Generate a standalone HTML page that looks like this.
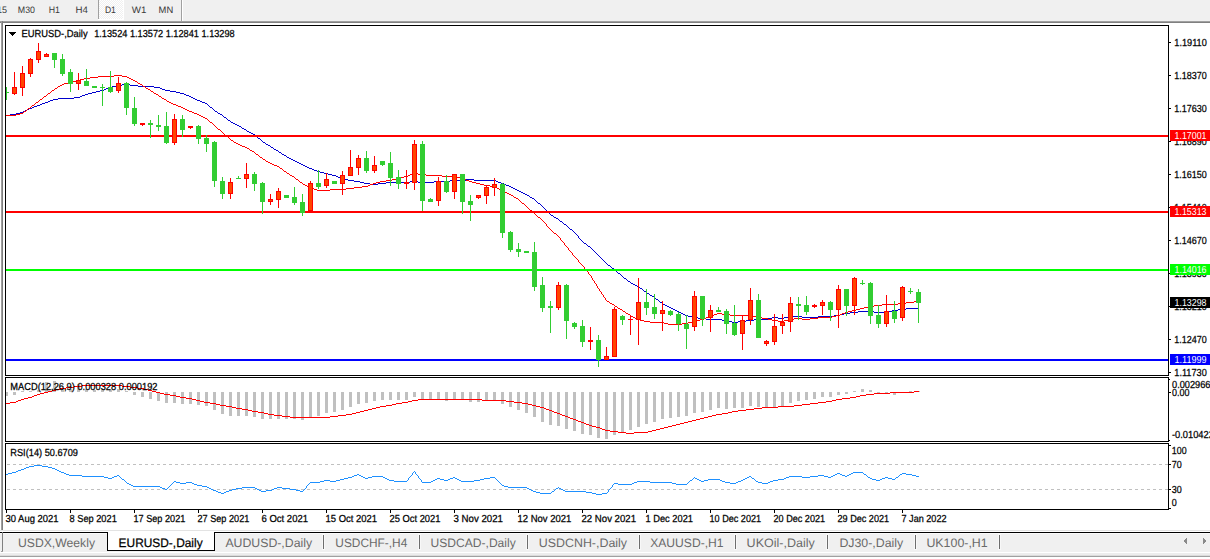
<!DOCTYPE html><html><head><meta charset="utf-8"><title>EURUSD Daily</title><style>html,body{margin:0;padding:0;background:#fff;overflow:hidden}svg{display:block}text{font-family:"Liberation Sans",sans-serif}</style></head><body><svg width="1210" height="559" viewBox="0 0 1210 559" shape-rendering="crispEdges" text-rendering="geometricPrecision" font-family='"Liberation Sans", sans-serif'>
<defs><clipPath id="cm"><rect x="6" y="26" width="1162" height="349"/></clipPath><clipPath id="cd"><rect x="6" y="378" width="1162" height="63"/></clipPath><clipPath id="cr"><rect x="6" y="444" width="1162" height="65"/></clipPath><pattern id="dith" width="2" height="2" patternUnits="userSpaceOnUse"><rect width="2" height="2" fill="#f0f0f0"/><rect width="1" height="1" fill="#ffffff"/><rect x="1" y="1" width="1" height="1" fill="#ffffff"/></pattern></defs>
<rect x="0" y="0" width="1210" height="559" fill="#ffffff"/>
<rect x="0" y="0" width="1210" height="21" fill="#f0f0f0"/>
<rect x="98" y="0" width="1" height="19" fill="#a0a0a0"/>
<rect x="99" y="0" width="24" height="19" fill="url(#dith)"/>
<rect x="123" y="0" width="1" height="20" fill="#ffffff"/>
<rect x="98" y="19" width="26" height="1" fill="#ffffff"/>
<rect x="181" y="0" width="1" height="21" fill="#a0a0a0"/>
<rect x="182" y="0" width="1" height="21" fill="#ffffff"/>
<text x="-10.5" y="13" font-size="9.3" fill="#3a3a3a" textLength="17.5" lengthAdjust="spacingAndGlyphs">M15</text>
<text x="17.8" y="13" font-size="9.3" fill="#3a3a3a" textLength="17.2" lengthAdjust="spacingAndGlyphs">M30</text>
<text x="48.8" y="13" font-size="9.3" fill="#3a3a3a" textLength="11.2" lengthAdjust="spacingAndGlyphs">H1</text>
<text x="75.6" y="13" font-size="9.3" fill="#3a3a3a" textLength="12.4" lengthAdjust="spacingAndGlyphs">H4</text>
<text x="104.9" y="13" font-size="9.3" fill="#3a3a3a" textLength="11" lengthAdjust="spacingAndGlyphs">D1</text>
<text x="131.8" y="13" font-size="9.3" fill="#3a3a3a" textLength="14.6" lengthAdjust="spacingAndGlyphs">W1</text>
<text x="158.6" y="13" font-size="9.3" fill="#3a3a3a" textLength="14.6" lengthAdjust="spacingAndGlyphs">MN</text>
<rect x="0" y="21" width="1210" height="1" fill="#a0a0a0"/>
<rect x="0" y="22" width="1210" height="1" fill="#808080"/>
<rect x="1" y="21" width="1" height="509" fill="#a0a0a0"/>
<rect x="2" y="21" width="1" height="509" fill="#808080"/>
<path d="M122 84h8v1h-8zM116 85h6v1h-6zM130 85h8v1h-8zM112 86h4v1h-4zM138 86h16v1h-16zM109 87h3v1h-3zM154 87h6v1h-6zM106 88h3v1h-3zM160 88h2v1h-2zM104 89h2v1h-2zM162 89h3v1h-3zM100 90h4v1h-4zM165 90h5v1h-5zM96 91h4v1h-4zM170 91h6v1h-6zM92 92h4v1h-4zM176 92h4v1h-4zM88 93h4v1h-4zM180 93h4v1h-4zM85 94h3v1h-3zM184 94h2v1h-2zM82 95h3v1h-3zM186 95h3v1h-3zM80 96h2v1h-2zM189 96h2v1h-2zM74 97h6v1h-6zM191 97h2v1h-2zM58 98h16v1h-16zM193 98h2v1h-2zM53 99h5v1h-5zM195 99h2v1h-2zM50 100h3v1h-3zM197 100h3v1h-3zM48 101h2v1h-2zM200 101h2v1h-2zM45 102h3v1h-3zM202 102h3v1h-3zM42 103h3v1h-3zM205 103h2v1h-2zM40 104h2v1h-2zM207 104h1v1h-1zM37 105h3v1h-3zM208 105h1v1h-1zM34 106h3v1h-3zM209 106h1v1h-1zM32 107h2v1h-2zM210 107h2v1h-2zM29 108h3v1h-3zM212 108h1v1h-1zM27 109h2v1h-2zM213 109h1v1h-1zM25 110h2v1h-2zM214 110h1v1h-1zM23 111h2v1h-2zM215 111h2v1h-2zM20 112h3v1h-3zM217 112h1v1h-1zM16 113h4v1h-4zM218 113h2v1h-2zM10 114h6v1h-6zM220 114h2v1h-2zM6 115h4v1h-4zM222 115h1v1h-1zM223 116h1v1h-1zM224 117h2v1h-2zM226 118h1v1h-1zM227 119h1v1h-1zM228 120h2v1h-2zM230 121h1v1h-1zM231 122h2v1h-2zM233 123h2v1h-2zM235 124h2v1h-2zM237 125h2v1h-2zM239 126h2v1h-2zM241 127h1v1h-1zM242 128h2v1h-2zM244 129h2v1h-2zM246 130h1v1h-1zM247 131h2v1h-2zM249 132h2v1h-2zM251 133h2v1h-2zM253 134h2v1h-2zM255 135h1v1h-1zM256 136h1v1h-1zM257 137h1v1h-1zM258 138h2v1h-2zM260 139h1v1h-1zM261 140h1v1h-1zM262 141h1v1h-1zM263 142h2v1h-2zM265 143h1v1h-1zM266 144h2v1h-2zM268 145h2v1h-2zM270 146h1v1h-1zM271 147h2v1h-2zM273 148h1v1h-1zM274 149h2v1h-2zM276 150h2v1h-2zM278 151h1v1h-1zM279 152h2v1h-2zM281 153h1v1h-1zM282 154h2v1h-2zM284 155h2v1h-2zM286 156h1v1h-1zM287 157h2v1h-2zM289 158h2v1h-2zM291 159h2v1h-2zM293 160h2v1h-2zM295 161h2v1h-2zM297 162h2v1h-2zM299 163h2v1h-2zM301 164h2v1h-2zM303 165h2v1h-2zM305 166h2v1h-2zM307 167h2v1h-2zM309 168h3v1h-3zM312 169h2v1h-2zM314 170h3v1h-3zM317 171h3v1h-3zM320 172h4v1h-4zM324 173h4v1h-4zM328 174h4v1h-4zM332 175h4v1h-4zM336 176h2v1h-2zM338 177h3v1h-3zM341 178h3v1h-3zM344 179h4v1h-4zM466 179h8v1h-8zM348 180h6v1h-6zM450 180h16v1h-16zM474 180h22v1h-22zM354 181h6v1h-6zM410 181h8v1h-8zM434 181h16v1h-16zM496 181h2v1h-2zM360 182h4v1h-4zM386 182h24v1h-24zM418 182h16v1h-16zM498 182h3v1h-3zM364 183h6v1h-6zM378 183h8v1h-8zM501 183h3v1h-3zM370 184h8v1h-8zM504 184h2v1h-2zM506 185h3v1h-3zM509 186h2v1h-2zM511 187h2v1h-2zM513 188h2v1h-2zM515 189h2v1h-2zM517 190h2v1h-2zM519 191h2v1h-2zM521 192h2v1h-2zM523 193h2v1h-2zM525 194h2v1h-2zM527 195h2v1h-2zM529 196h1v1h-1zM530 197h2v1h-2zM532 198h2v1h-2zM534 199h1v1h-1zM535 200h1v1h-1zM536 201h1v1h-1zM537 202h1v1h-1zM538 203h2v1h-2zM540 204h1v1h-1zM541 205h1v1h-1zM542 206h1v1h-1zM543 207h1v1h-1zM544 208h1v1h-1zM545 209h1v1h-1zM546 210h1v1h-1zM547 211h1v1h-1zM548 212h1v1h-1zM549 213h1v1h-1zM550 214h1v1h-1zM551 215h2v1h-2zM553 216h1v1h-1zM554 217h2v1h-2zM556 218h2v1h-2zM558 219h1v1h-1zM559 220h1v1h-1zM560 221h2v1h-2zM562 222h1v1h-1zM563 223h1v1h-1zM564 224h2v1h-2zM566 225h1v1h-1zM567 226h1v1h-1zM568 227h1v1h-1zM569 228h1v1h-1zM570 229h2v1h-2zM572 230h1v1h-1zM573 231h1v1h-1zM574 232h1v1h-1zM575 233h1v1h-1zM576 234h1v1h-1zM577 235h1v1h-1zM578 236h1v1h-1zM578 237h1v1h-1zM579 238h1v1h-1zM580 239h1v1h-1zM581 240h1v1h-1zM582 241h1v1h-1zM583 242h1v1h-1zM584 243h2v1h-2zM586 244h1v1h-1zM587 245h1v1h-1zM588 246h2v1h-2zM590 247h1v1h-1zM591 248h1v1h-1zM592 249h1v1h-1zM593 250h1v1h-1zM594 251h1v1h-1zM595 252h1v1h-1zM596 253h1v1h-1zM597 254h1v1h-1zM598 255h1v1h-1zM599 256h1v1h-1zM600 257h1v1h-1zM601 258h1v1h-1zM602 259h1v1h-1zM603 260h1v1h-1zM604 261h1v1h-1zM605 262h1v1h-1zM606 263h1v1h-1zM607 264h1v1h-1zM608 265h2v1h-2zM610 266h1v1h-1zM611 267h1v1h-1zM612 268h2v1h-2zM614 269h1v1h-1zM615 270h1v1h-1zM616 271h1v1h-1zM617 272h1v1h-1zM618 273h2v1h-2zM620 274h1v1h-1zM621 275h1v1h-1zM622 276h1v1h-1zM623 277h1v1h-1zM624 278h2v1h-2zM626 279h1v1h-1zM627 280h1v1h-1zM628 281h2v1h-2zM630 282h1v1h-1zM631 283h2v1h-2zM633 284h2v1h-2zM635 285h2v1h-2zM637 286h2v1h-2zM639 287h1v1h-1zM640 288h2v1h-2zM642 289h1v1h-1zM643 290h1v1h-1zM644 291h2v1h-2zM646 292h1v1h-1zM647 293h2v1h-2zM649 294h1v1h-1zM650 295h2v1h-2zM652 296h2v1h-2zM654 297h1v1h-1zM655 298h1v1h-1zM656 299h2v1h-2zM658 300h1v1h-1zM659 301h1v1h-1zM660 302h2v1h-2zM662 303h1v1h-1zM663 304h2v1h-2zM665 305h2v1h-2zM667 306h2v1h-2zM669 307h2v1h-2zM671 308h2v1h-2zM906 308h13v1h-13zM673 309h2v1h-2zM898 309h8v1h-8zM675 310h2v1h-2zM892 310h6v1h-6zM677 311h2v1h-2zM858 311h16v1h-16zM888 311h4v1h-4zM679 312h2v1h-2zM850 312h8v1h-8zM874 312h14v1h-14zM681 313h2v1h-2zM844 313h6v1h-6zM683 314h2v1h-2zM840 314h4v1h-4zM685 315h3v1h-3zM834 315h6v1h-6zM688 316h4v1h-4zM788 316h14v1h-14zM818 316h16v1h-16zM692 317h6v1h-6zM772 317h6v1h-6zM784 317h4v1h-4zM802 317h16v1h-16zM698 318h8v1h-8zM768 318h4v1h-4zM778 318h6v1h-6zM706 319h16v1h-16zM754 319h14v1h-14zM722 320h6v1h-6zM746 320h8v1h-8zM728 321h4v1h-4zM738 321h8v1h-8zM732 322h6v1h-6z" fill="#0000cd"/>
<path d="M114 75h8v1h-8zM98 76h16v1h-16zM122 76h5v1h-5zM90 77h8v1h-8zM127 77h2v1h-2zM84 78h6v1h-6zM129 78h2v1h-2zM80 79h4v1h-4zM131 79h2v1h-2zM76 80h4v1h-4zM133 80h2v1h-2zM72 81h4v1h-4zM135 81h2v1h-2zM68 82h4v1h-4zM137 82h1v1h-1zM64 83h4v1h-4zM138 83h2v1h-2zM62 84h2v1h-2zM140 84h2v1h-2zM60 85h2v1h-2zM142 85h1v1h-1zM58 86h2v1h-2zM143 86h2v1h-2zM57 87h1v1h-1zM145 87h1v1h-1zM55 88h2v1h-2zM146 88h2v1h-2zM54 89h1v1h-1zM148 89h2v1h-2zM52 90h2v1h-2zM150 90h1v1h-1zM51 91h1v1h-1zM151 91h2v1h-2zM50 92h1v1h-1zM153 92h1v1h-1zM48 93h2v1h-2zM154 93h2v1h-2zM47 94h1v1h-1zM156 94h2v1h-2zM46 95h1v1h-1zM158 95h1v1h-1zM44 96h2v1h-2zM159 96h2v1h-2zM43 97h1v1h-1zM161 97h1v1h-1zM42 98h1v1h-1zM162 98h2v1h-2zM40 99h2v1h-2zM164 99h2v1h-2zM39 100h1v1h-1zM166 100h1v1h-1zM38 101h1v1h-1zM167 101h2v1h-2zM36 102h2v1h-2zM169 102h2v1h-2zM35 103h1v1h-1zM171 103h2v1h-2zM34 104h1v1h-1zM173 104h3v1h-3zM32 105h2v1h-2zM176 105h2v1h-2zM31 106h1v1h-1zM178 106h3v1h-3zM30 107h1v1h-1zM181 107h2v1h-2zM28 108h2v1h-2zM183 108h2v1h-2zM27 109h1v1h-1zM185 109h2v1h-2zM26 110h1v1h-1zM187 110h2v1h-2zM24 111h2v1h-2zM189 111h3v1h-3zM23 112h1v1h-1zM192 112h2v1h-2zM20 113h3v1h-3zM194 113h3v1h-3zM16 114h4v1h-4zM197 114h2v1h-2zM6 115h10v1h-10zM199 115h2v1h-2zM201 116h2v1h-2zM203 117h2v1h-2zM205 118h2v1h-2zM207 119h1v1h-1zM208 120h1v1h-1zM209 121h1v1h-1zM210 122h2v1h-2zM212 123h1v1h-1zM213 124h1v1h-1zM214 125h1v1h-1zM215 126h1v1h-1zM216 127h1v1h-1zM217 128h1v1h-1zM218 129h2v1h-2zM220 130h1v1h-1zM221 131h1v1h-1zM222 132h1v1h-1zM223 133h1v1h-1zM224 134h1v1h-1zM225 135h1v1h-1zM226 136h2v1h-2zM228 137h1v1h-1zM229 138h1v1h-1zM230 139h1v1h-1zM231 140h2v1h-2zM233 141h1v1h-1zM234 142h2v1h-2zM236 143h2v1h-2zM238 144h2v1h-2zM240 145h2v1h-2zM242 146h3v1h-3zM245 147h2v1h-2zM247 148h2v1h-2zM249 149h1v1h-1zM250 150h2v1h-2zM252 151h2v1h-2zM254 152h1v1h-1zM255 153h1v1h-1zM256 154h2v1h-2zM258 155h1v1h-1zM259 156h1v1h-1zM260 157h2v1h-2zM262 158h1v1h-1zM263 159h2v1h-2zM265 160h1v1h-1zM266 161h2v1h-2zM268 162h2v1h-2zM270 163h2v1h-2zM272 164h2v1h-2zM274 165h3v1h-3zM277 166h2v1h-2zM279 167h1v1h-1zM280 168h2v1h-2zM282 169h1v1h-1zM283 170h1v1h-1zM284 171h2v1h-2zM286 172h1v1h-1zM287 173h2v1h-2zM413 173h5v1h-5zM289 174h1v1h-1zM410 174h3v1h-3zM418 174h8v1h-8zM290 175h2v1h-2zM408 175h2v1h-2zM426 175h16v1h-16zM292 176h2v1h-2zM404 176h4v1h-4zM442 176h14v1h-14zM294 177h1v1h-1zM400 177h4v1h-4zM456 177h4v1h-4zM295 178h1v1h-1zM396 178h4v1h-4zM460 178h4v1h-4zM296 179h2v1h-2zM392 179h4v1h-4zM464 179h2v1h-2zM298 180h1v1h-1zM386 180h6v1h-6zM466 180h3v1h-3zM299 181h1v1h-1zM380 181h6v1h-6zM469 181h3v1h-3zM300 182h2v1h-2zM376 182h4v1h-4zM472 182h4v1h-4zM302 183h1v1h-1zM373 183h3v1h-3zM476 183h4v1h-4zM303 184h2v1h-2zM370 184h3v1h-3zM480 184h4v1h-4zM305 185h2v1h-2zM368 185h2v1h-2zM484 185h6v1h-6zM307 186h2v1h-2zM362 186h6v1h-6zM490 186h5v1h-5zM309 187h3v1h-3zM354 187h8v1h-8zM495 187h2v1h-2zM312 188h2v1h-2zM346 188h8v1h-8zM497 188h2v1h-2zM314 189h3v1h-3zM330 189h16v1h-16zM499 189h2v1h-2zM317 190h13v1h-13zM501 190h2v1h-2zM503 191h2v1h-2zM505 192h2v1h-2zM507 193h2v1h-2zM509 194h2v1h-2zM511 195h2v1h-2zM513 196h1v1h-1zM514 197h2v1h-2zM516 198h2v1h-2zM518 199h1v1h-1zM519 200h1v1h-1zM520 201h1v1h-1zM521 202h1v1h-1zM522 203h2v1h-2zM524 204h1v1h-1zM525 205h1v1h-1zM526 206h1v1h-1zM527 207h1v1h-1zM528 208h1v1h-1zM529 209h1v1h-1zM530 210h2v1h-2zM532 211h1v1h-1zM533 212h1v1h-1zM534 213h1v1h-1zM535 214h1v1h-1zM536 215h1v1h-1zM537 216h1v1h-1zM538 217h2v1h-2zM540 218h1v1h-1zM541 219h1v1h-1zM542 220h1v1h-1zM543 221h1v1h-1zM544 222h1v1h-1zM545 223h1v1h-1zM546 224h1v1h-1zM546 225h1v1h-1zM547 226h1v1h-1zM548 227h1v1h-1zM549 228h1v1h-1zM550 229h1v1h-1zM551 230h1v1h-1zM552 231h1v1h-1zM553 232h1v1h-1zM554 233h2v1h-2zM556 234h1v1h-1zM557 235h1v1h-1zM558 236h1v1h-1zM559 237h1v1h-1zM560 238h1v1h-1zM560 239h1v1h-1zM561 240h1v1h-1zM562 241h1v1h-1zM563 242h1v1h-1zM564 243h1v1h-1zM564 244h1v1h-1zM565 245h1v1h-1zM566 246h1v1h-1zM567 247h1v1h-1zM568 248h1v1h-1zM568 249h1v1h-1zM569 250h1v1h-1zM570 251h1v1h-1zM571 252h1v1h-1zM572 253h1v1h-1zM572 254h1v1h-1zM573 255h1v1h-1zM574 256h1v1h-1zM575 257h1v1h-1zM576 258h1v1h-1zM577 259h1v1h-1zM578 260h1v1h-1zM578 261h1v1h-1zM579 262h1v1h-1zM580 263h1v1h-1zM581 264h1v1h-1zM582 265h1v1h-1zM583 266h1v1h-1zM584 267h1v1h-1zM584 268h1v1h-1zM585 269h1v1h-1zM586 270h1v1h-1zM587 271h1v1h-1zM588 272h1v1h-1zM588 273h1v1h-1zM589 274h1v1h-1zM590 275h1v1h-1zM591 276h1v1h-1zM591 277h1v1h-1zM592 278h1v1h-1zM592 279h1v1h-1zM593 280h1v1h-1zM594 281h1v1h-1zM594 282h1v1h-1zM595 283h1v1h-1zM596 284h1v1h-1zM596 285h1v1h-1zM597 286h1v1h-1zM597 287h1v1h-1zM598 288h1v1h-1zM599 289h1v1h-1zM599 290h1v1h-1zM600 291h1v1h-1zM601 292h1v1h-1zM601 293h1v1h-1zM602 294h1v1h-1zM603 295h1v1h-1zM603 296h1v1h-1zM604 297h1v1h-1zM605 298h1v1h-1zM605 299h1v1h-1zM606 300h1v1h-1zM607 301h2v1h-2zM914 301h5v1h-5zM609 302h1v1h-1zM906 302h8v1h-8zM610 303h2v1h-2zM898 303h8v1h-8zM612 304h2v1h-2zM882 304h16v1h-16zM614 305h1v1h-1zM874 305h8v1h-8zM615 306h2v1h-2zM868 306h6v1h-6zM617 307h1v1h-1zM864 307h4v1h-4zM618 308h2v1h-2zM860 308h4v1h-4zM620 309h2v1h-2zM856 309h4v1h-4zM622 310h1v1h-1zM852 310h4v1h-4zM623 311h2v1h-2zM848 311h4v1h-4zM625 312h1v1h-1zM845 312h3v1h-3zM626 313h2v1h-2zM717 313h5v1h-5zM842 313h3v1h-3zM628 314h2v1h-2zM714 314h3v1h-3zM722 314h8v1h-8zM840 314h2v1h-2zM630 315h1v1h-1zM712 315h2v1h-2zM730 315h22v1h-22zM836 315h4v1h-4zM631 316h2v1h-2zM709 316h3v1h-3zM752 316h4v1h-4zM832 316h4v1h-4zM633 317h2v1h-2zM706 317h3v1h-3zM756 317h6v1h-6zM818 317h14v1h-14zM635 318h2v1h-2zM704 318h2v1h-2zM762 318h6v1h-6zM794 318h8v1h-8zM810 318h8v1h-8zM637 319h3v1h-3zM700 319h4v1h-4zM768 319h4v1h-4zM788 319h6v1h-6zM802 319h8v1h-8zM640 320h4v1h-4zM696 320h4v1h-4zM772 320h6v1h-6zM784 320h4v1h-4zM644 321h6v1h-6zM692 321h4v1h-4zM778 321h6v1h-6zM650 322h14v1h-14zM688 322h4v1h-4zM664 323h4v1h-4zM682 323h6v1h-6zM668 324h14v1h-14z" fill="#ff0000"/>
<rect x="6" y="135" width="1162" height="2" fill="#ff0000"/>
<rect x="6" y="211" width="1162" height="2" fill="#ff0000"/>
<rect x="6" y="269" width="1162" height="2" fill="#00ff00"/>
<rect x="6" y="359" width="1162" height="2" fill="#0000ff"/>
<g clip-path="url(#cm)">
<rect x="6" y="87" width="1" height="13" fill="#32cd32"/>
<rect x="4" y="92" width="5" height="1" fill="#32cd32"/>
<rect x="14" y="72" width="1" height="23" fill="#ff0000"/>
<rect x="12" y="87" width="5" height="7" fill="#ff0000"/>
<rect x="13" y="88" width="3" height="5" fill="#ff4500"/>
<rect x="22" y="66" width="1" height="30" fill="#ff0000"/>
<rect x="20" y="73" width="5" height="15" fill="#ff0000"/>
<rect x="21" y="74" width="3" height="13" fill="#ff4500"/>
<rect x="30" y="58" width="1" height="19" fill="#ff0000"/>
<rect x="28" y="59" width="5" height="15" fill="#ff0000"/>
<rect x="29" y="60" width="3" height="13" fill="#ff4500"/>
<rect x="38" y="43" width="1" height="20" fill="#ff0000"/>
<rect x="36" y="51" width="5" height="9" fill="#ff0000"/>
<rect x="37" y="52" width="3" height="7" fill="#ff4500"/>
<rect x="46" y="53" width="1" height="4" fill="#ff0000"/>
<rect x="44" y="54" width="5" height="3" fill="#ff0000"/>
<rect x="45" y="55" width="3" height="1" fill="#ff4500"/>
<rect x="54" y="53" width="1" height="15" fill="#32cd32"/>
<rect x="52" y="53" width="5" height="7" fill="#32cd32"/>
<rect x="62" y="54" width="1" height="22" fill="#32cd32"/>
<rect x="60" y="59" width="5" height="15" fill="#32cd32"/>
<rect x="70" y="69" width="1" height="23" fill="#32cd32"/>
<rect x="68" y="72" width="5" height="12" fill="#32cd32"/>
<rect x="78" y="73" width="1" height="17" fill="#ff0000"/>
<rect x="76" y="80" width="5" height="4" fill="#ff0000"/>
<rect x="77" y="81" width="3" height="2" fill="#ff4500"/>
<rect x="86" y="69" width="1" height="17" fill="#32cd32"/>
<rect x="84" y="81" width="5" height="5" fill="#32cd32"/>
<rect x="94" y="86" width="1" height="2" fill="#32cd32"/>
<rect x="92" y="86" width="5" height="2" fill="#32cd32"/>
<rect x="102" y="84" width="1" height="22" fill="#32cd32"/>
<rect x="100" y="87" width="5" height="1" fill="#32cd32"/>
<rect x="110" y="71" width="1" height="22" fill="#32cd32"/>
<rect x="108" y="87" width="5" height="5" fill="#32cd32"/>
<rect x="118" y="77" width="1" height="16" fill="#ff0000"/>
<rect x="116" y="83" width="5" height="8" fill="#ff0000"/>
<rect x="117" y="84" width="3" height="6" fill="#ff4500"/>
<rect x="126" y="82" width="1" height="33" fill="#32cd32"/>
<rect x="124" y="83" width="5" height="25" fill="#32cd32"/>
<rect x="134" y="97" width="1" height="29" fill="#32cd32"/>
<rect x="132" y="108" width="5" height="16" fill="#32cd32"/>
<rect x="142" y="123" width="1" height="3" fill="#ff0000"/>
<rect x="140" y="123" width="5" height="2" fill="#ff0000"/>
<rect x="150" y="120" width="1" height="18" fill="#32cd32"/>
<rect x="148" y="123" width="5" height="2" fill="#32cd32"/>
<rect x="158" y="115" width="1" height="16" fill="#32cd32"/>
<rect x="156" y="125" width="5" height="2" fill="#32cd32"/>
<rect x="166" y="112" width="1" height="32" fill="#32cd32"/>
<rect x="164" y="126" width="5" height="17" fill="#32cd32"/>
<rect x="174" y="114" width="1" height="31" fill="#ff0000"/>
<rect x="172" y="119" width="5" height="24" fill="#ff0000"/>
<rect x="173" y="120" width="3" height="22" fill="#ff4500"/>
<rect x="182" y="115" width="1" height="22" fill="#32cd32"/>
<rect x="180" y="119" width="5" height="11" fill="#32cd32"/>
<rect x="190" y="126" width="1" height="3" fill="#ff0000"/>
<rect x="188" y="126" width="5" height="2" fill="#ff0000"/>
<rect x="198" y="125" width="1" height="19" fill="#32cd32"/>
<rect x="196" y="126" width="5" height="13" fill="#32cd32"/>
<rect x="206" y="135" width="1" height="17" fill="#32cd32"/>
<rect x="204" y="138" width="5" height="6" fill="#32cd32"/>
<rect x="214" y="141" width="1" height="46" fill="#32cd32"/>
<rect x="212" y="142" width="5" height="39" fill="#32cd32"/>
<rect x="222" y="177" width="1" height="22" fill="#32cd32"/>
<rect x="220" y="181" width="5" height="13" fill="#32cd32"/>
<rect x="230" y="178" width="1" height="21" fill="#ff0000"/>
<rect x="228" y="182" width="5" height="12" fill="#ff0000"/>
<rect x="229" y="183" width="3" height="10" fill="#ff4500"/>
<rect x="238" y="176" width="1" height="3" fill="#32cd32"/>
<rect x="236" y="178" width="5" height="1" fill="#32cd32"/>
<rect x="246" y="163" width="1" height="25" fill="#ff0000"/>
<rect x="244" y="174" width="5" height="5" fill="#ff0000"/>
<rect x="245" y="175" width="3" height="3" fill="#ff4500"/>
<rect x="254" y="172" width="1" height="19" fill="#32cd32"/>
<rect x="252" y="174" width="5" height="10" fill="#32cd32"/>
<rect x="262" y="182" width="1" height="32" fill="#32cd32"/>
<rect x="260" y="183" width="5" height="19" fill="#32cd32"/>
<rect x="270" y="194" width="1" height="11" fill="#ff0000"/>
<rect x="268" y="199" width="5" height="3" fill="#ff0000"/>
<rect x="269" y="200" width="3" height="1" fill="#ff4500"/>
<rect x="278" y="188" width="1" height="20" fill="#ff0000"/>
<rect x="276" y="191" width="5" height="9" fill="#ff0000"/>
<rect x="277" y="192" width="3" height="7" fill="#ff4500"/>
<rect x="286" y="195" width="1" height="3" fill="#32cd32"/>
<rect x="284" y="195" width="5" height="3" fill="#32cd32"/>
<rect x="294" y="187" width="1" height="18" fill="#32cd32"/>
<rect x="292" y="197" width="5" height="6" fill="#32cd32"/>
<rect x="302" y="194" width="1" height="22" fill="#32cd32"/>
<rect x="300" y="202" width="5" height="11" fill="#32cd32"/>
<rect x="310" y="181" width="1" height="31" fill="#ff0000"/>
<rect x="308" y="183" width="5" height="28" fill="#ff0000"/>
<rect x="309" y="184" width="3" height="26" fill="#ff4500"/>
<rect x="318" y="170" width="1" height="19" fill="#32cd32"/>
<rect x="316" y="183" width="5" height="4" fill="#32cd32"/>
<rect x="326" y="173" width="1" height="15" fill="#ff0000"/>
<rect x="324" y="179" width="5" height="7" fill="#ff0000"/>
<rect x="325" y="180" width="3" height="5" fill="#ff4500"/>
<rect x="334" y="181" width="1" height="3" fill="#32cd32"/>
<rect x="332" y="181" width="5" height="3" fill="#32cd32"/>
<rect x="342" y="171" width="1" height="24" fill="#ff0000"/>
<rect x="340" y="175" width="5" height="9" fill="#ff0000"/>
<rect x="341" y="176" width="3" height="7" fill="#ff4500"/>
<rect x="350" y="150" width="1" height="26" fill="#ff0000"/>
<rect x="348" y="167" width="5" height="9" fill="#ff0000"/>
<rect x="349" y="168" width="3" height="7" fill="#ff4500"/>
<rect x="358" y="155" width="1" height="20" fill="#ff0000"/>
<rect x="356" y="158" width="5" height="10" fill="#ff0000"/>
<rect x="357" y="159" width="3" height="8" fill="#ff4500"/>
<rect x="366" y="151" width="1" height="22" fill="#32cd32"/>
<rect x="364" y="158" width="5" height="13" fill="#32cd32"/>
<rect x="374" y="156" width="1" height="17" fill="#ff0000"/>
<rect x="372" y="165" width="5" height="6" fill="#ff0000"/>
<rect x="373" y="166" width="3" height="4" fill="#ff4500"/>
<rect x="382" y="161" width="1" height="5" fill="#32cd32"/>
<rect x="380" y="161" width="5" height="4" fill="#32cd32"/>
<rect x="390" y="152" width="1" height="34" fill="#32cd32"/>
<rect x="388" y="163" width="5" height="15" fill="#32cd32"/>
<rect x="398" y="170" width="1" height="19" fill="#32cd32"/>
<rect x="396" y="177" width="5" height="7" fill="#32cd32"/>
<rect x="406" y="170" width="1" height="19" fill="#ff0000"/>
<rect x="404" y="182" width="5" height="2" fill="#ff0000"/>
<rect x="414" y="140" width="1" height="50" fill="#ff0000"/>
<rect x="412" y="144" width="5" height="39" fill="#ff0000"/>
<rect x="413" y="145" width="3" height="37" fill="#ff4500"/>
<rect x="422" y="141" width="1" height="70" fill="#32cd32"/>
<rect x="420" y="144" width="5" height="57" fill="#32cd32"/>
<rect x="430" y="198" width="1" height="4" fill="#32cd32"/>
<rect x="428" y="199" width="5" height="3" fill="#32cd32"/>
<rect x="438" y="177" width="1" height="29" fill="#ff0000"/>
<rect x="436" y="181" width="5" height="20" fill="#ff0000"/>
<rect x="437" y="182" width="3" height="18" fill="#ff4500"/>
<rect x="446" y="175" width="1" height="18" fill="#32cd32"/>
<rect x="444" y="181" width="5" height="11" fill="#32cd32"/>
<rect x="454" y="174" width="1" height="25" fill="#ff0000"/>
<rect x="452" y="174" width="5" height="18" fill="#ff0000"/>
<rect x="453" y="175" width="3" height="16" fill="#ff4500"/>
<rect x="462" y="174" width="1" height="40" fill="#32cd32"/>
<rect x="460" y="174" width="5" height="28" fill="#32cd32"/>
<rect x="470" y="195" width="1" height="26" fill="#32cd32"/>
<rect x="468" y="201" width="5" height="4" fill="#32cd32"/>
<rect x="478" y="195" width="1" height="4" fill="#ff0000"/>
<rect x="476" y="195" width="5" height="3" fill="#ff0000"/>
<rect x="477" y="196" width="3" height="1" fill="#ff4500"/>
<rect x="486" y="185" width="1" height="19" fill="#ff0000"/>
<rect x="484" y="187" width="5" height="9" fill="#ff0000"/>
<rect x="485" y="188" width="3" height="7" fill="#ff4500"/>
<rect x="494" y="178" width="1" height="18" fill="#ff0000"/>
<rect x="492" y="184" width="5" height="4" fill="#ff0000"/>
<rect x="493" y="185" width="3" height="2" fill="#ff4500"/>
<rect x="502" y="183" width="1" height="55" fill="#32cd32"/>
<rect x="500" y="184" width="5" height="49" fill="#32cd32"/>
<rect x="510" y="231" width="1" height="21" fill="#32cd32"/>
<rect x="508" y="232" width="5" height="18" fill="#32cd32"/>
<rect x="518" y="243" width="1" height="14" fill="#32cd32"/>
<rect x="516" y="249" width="5" height="3" fill="#32cd32"/>
<rect x="526" y="251" width="1" height="2" fill="#32cd32"/>
<rect x="524" y="251" width="5" height="2" fill="#32cd32"/>
<rect x="534" y="242" width="1" height="49" fill="#32cd32"/>
<rect x="532" y="252" width="5" height="35" fill="#32cd32"/>
<rect x="542" y="277" width="1" height="35" fill="#32cd32"/>
<rect x="540" y="285" width="5" height="23" fill="#32cd32"/>
<rect x="550" y="301" width="1" height="32" fill="#32cd32"/>
<rect x="548" y="306" width="5" height="2" fill="#32cd32"/>
<rect x="558" y="282" width="1" height="28" fill="#ff0000"/>
<rect x="556" y="285" width="5" height="23" fill="#ff0000"/>
<rect x="557" y="286" width="3" height="21" fill="#ff4500"/>
<rect x="566" y="284" width="1" height="55" fill="#32cd32"/>
<rect x="564" y="285" width="5" height="36" fill="#32cd32"/>
<rect x="574" y="322" width="1" height="7" fill="#32cd32"/>
<rect x="572" y="323" width="5" height="4" fill="#32cd32"/>
<rect x="582" y="320" width="1" height="27" fill="#32cd32"/>
<rect x="580" y="326" width="5" height="16" fill="#32cd32"/>
<rect x="590" y="327" width="1" height="23" fill="#ff0000"/>
<rect x="588" y="340" width="5" height="2" fill="#ff0000"/>
<rect x="598" y="335" width="1" height="32" fill="#32cd32"/>
<rect x="596" y="340" width="5" height="20" fill="#32cd32"/>
<rect x="606" y="347" width="1" height="13" fill="#ff0000"/>
<rect x="604" y="356" width="5" height="4" fill="#ff0000"/>
<rect x="605" y="357" width="3" height="2" fill="#ff4500"/>
<rect x="614" y="307" width="1" height="50" fill="#ff0000"/>
<rect x="612" y="309" width="5" height="48" fill="#ff0000"/>
<rect x="613" y="310" width="3" height="46" fill="#ff4500"/>
<rect x="622" y="315" width="1" height="10" fill="#32cd32"/>
<rect x="620" y="316" width="5" height="4" fill="#32cd32"/>
<rect x="630" y="316" width="1" height="19" fill="#ff0000"/>
<rect x="628" y="319" width="5" height="1" fill="#ff0000"/>
<rect x="638" y="278" width="1" height="67" fill="#ff0000"/>
<rect x="636" y="302" width="5" height="18" fill="#ff0000"/>
<rect x="637" y="303" width="3" height="16" fill="#ff4500"/>
<rect x="646" y="289" width="1" height="26" fill="#32cd32"/>
<rect x="644" y="302" width="5" height="6" fill="#32cd32"/>
<rect x="654" y="294" width="1" height="25" fill="#32cd32"/>
<rect x="652" y="307" width="5" height="7" fill="#32cd32"/>
<rect x="662" y="301" width="1" height="30" fill="#ff0000"/>
<rect x="660" y="310" width="5" height="4" fill="#ff0000"/>
<rect x="661" y="311" width="3" height="2" fill="#ff4500"/>
<rect x="670" y="310" width="1" height="6" fill="#32cd32"/>
<rect x="668" y="311" width="5" height="4" fill="#32cd32"/>
<rect x="678" y="312" width="1" height="19" fill="#32cd32"/>
<rect x="676" y="314" width="5" height="10" fill="#32cd32"/>
<rect x="686" y="315" width="1" height="34" fill="#32cd32"/>
<rect x="684" y="324" width="5" height="5" fill="#32cd32"/>
<rect x="694" y="291" width="1" height="40" fill="#ff0000"/>
<rect x="692" y="296" width="5" height="31" fill="#ff0000"/>
<rect x="693" y="297" width="3" height="29" fill="#ff4500"/>
<rect x="702" y="296" width="1" height="30" fill="#32cd32"/>
<rect x="700" y="296" width="5" height="23" fill="#32cd32"/>
<rect x="710" y="305" width="1" height="27" fill="#ff0000"/>
<rect x="708" y="310" width="5" height="8" fill="#ff0000"/>
<rect x="709" y="311" width="3" height="6" fill="#ff4500"/>
<rect x="718" y="307" width="1" height="5" fill="#32cd32"/>
<rect x="716" y="310" width="5" height="2" fill="#32cd32"/>
<rect x="726" y="309" width="1" height="25" fill="#32cd32"/>
<rect x="724" y="311" width="5" height="13" fill="#32cd32"/>
<rect x="734" y="305" width="1" height="31" fill="#32cd32"/>
<rect x="732" y="323" width="5" height="12" fill="#32cd32"/>
<rect x="742" y="316" width="1" height="34" fill="#ff0000"/>
<rect x="740" y="320" width="5" height="14" fill="#ff0000"/>
<rect x="741" y="321" width="3" height="12" fill="#ff4500"/>
<rect x="750" y="288" width="1" height="37" fill="#ff0000"/>
<rect x="748" y="300" width="5" height="20" fill="#ff0000"/>
<rect x="749" y="301" width="3" height="18" fill="#ff4500"/>
<rect x="758" y="294" width="1" height="44" fill="#32cd32"/>
<rect x="756" y="300" width="5" height="38" fill="#32cd32"/>
<rect x="766" y="340" width="1" height="6" fill="#ff0000"/>
<rect x="764" y="341" width="5" height="3" fill="#ff0000"/>
<rect x="765" y="342" width="3" height="1" fill="#ff4500"/>
<rect x="774" y="314" width="1" height="31" fill="#ff0000"/>
<rect x="772" y="326" width="5" height="16" fill="#ff0000"/>
<rect x="773" y="327" width="3" height="14" fill="#ff4500"/>
<rect x="782" y="314" width="1" height="20" fill="#ff0000"/>
<rect x="780" y="322" width="5" height="4" fill="#ff0000"/>
<rect x="781" y="323" width="3" height="2" fill="#ff4500"/>
<rect x="790" y="297" width="1" height="35" fill="#ff0000"/>
<rect x="788" y="303" width="5" height="19" fill="#ff0000"/>
<rect x="789" y="304" width="3" height="17" fill="#ff4500"/>
<rect x="798" y="297" width="1" height="23" fill="#32cd32"/>
<rect x="796" y="304" width="5" height="2" fill="#32cd32"/>
<rect x="806" y="296" width="1" height="19" fill="#32cd32"/>
<rect x="804" y="305" width="5" height="7" fill="#32cd32"/>
<rect x="814" y="304" width="1" height="4" fill="#ff0000"/>
<rect x="812" y="305" width="5" height="2" fill="#ff0000"/>
<rect x="822" y="300" width="1" height="15" fill="#ff0000"/>
<rect x="820" y="302" width="5" height="4" fill="#ff0000"/>
<rect x="821" y="303" width="3" height="2" fill="#ff4500"/>
<rect x="830" y="301" width="1" height="20" fill="#32cd32"/>
<rect x="828" y="302" width="5" height="8" fill="#32cd32"/>
<rect x="838" y="285" width="1" height="43" fill="#ff0000"/>
<rect x="836" y="289" width="5" height="21" fill="#ff0000"/>
<rect x="837" y="290" width="3" height="19" fill="#ff4500"/>
<rect x="846" y="289" width="1" height="27" fill="#32cd32"/>
<rect x="844" y="289" width="5" height="17" fill="#32cd32"/>
<rect x="854" y="277" width="1" height="38" fill="#ff0000"/>
<rect x="852" y="278" width="5" height="28" fill="#ff0000"/>
<rect x="853" y="279" width="3" height="26" fill="#ff4500"/>
<rect x="862" y="280" width="1" height="5" fill="#32cd32"/>
<rect x="860" y="283" width="5" height="1" fill="#32cd32"/>
<rect x="870" y="282" width="1" height="42" fill="#32cd32"/>
<rect x="868" y="283" width="5" height="33" fill="#32cd32"/>
<rect x="878" y="305" width="1" height="23" fill="#32cd32"/>
<rect x="876" y="315" width="5" height="9" fill="#32cd32"/>
<rect x="886" y="295" width="1" height="32" fill="#ff0000"/>
<rect x="884" y="311" width="5" height="13" fill="#ff0000"/>
<rect x="885" y="312" width="3" height="11" fill="#ff4500"/>
<rect x="894" y="301" width="1" height="22" fill="#32cd32"/>
<rect x="892" y="311" width="5" height="8" fill="#32cd32"/>
<rect x="902" y="286" width="1" height="35" fill="#ff0000"/>
<rect x="900" y="287" width="5" height="31" fill="#ff0000"/>
<rect x="901" y="288" width="3" height="29" fill="#ff4500"/>
<rect x="910" y="288" width="1" height="6" fill="#32cd32"/>
<rect x="908" y="291" width="5" height="1" fill="#32cd32"/>
<rect x="918" y="289" width="1" height="34" fill="#32cd32"/>
<rect x="916" y="292" width="5" height="11" fill="#32cd32"/>
</g>
<rect x="5" y="25" width="1164" height="1" fill="#000"/>
<rect x="5" y="375" width="1164" height="1" fill="#000"/>
<rect x="5" y="25" width="1" height="351" fill="#000"/>
<rect x="1168" y="25" width="1" height="351" fill="#000"/>
<path d="M9 32h7v1h-1v1h-1v1h-1v1h-1v-1h-1v-1h-1v-1h-1z" fill="#000"/>
<text x="21.6" y="37" font-size="10.2" fill="#000" stroke="#000" stroke-width="0.25" textLength="66" lengthAdjust="spacingAndGlyphs">EURUSD-,Daily</text>
<text x="94.2" y="37" font-size="10.2" fill="#000" stroke="#000" stroke-width="0.25" textLength="140.5" lengthAdjust="spacingAndGlyphs">1.13524 1.13572 1.12841 1.13298</text>
<rect x="1169" y="42" width="2" height="1" fill="#000"/>
<text x="1174.3" y="46" font-size="10.2" fill="#000" stroke="#000" stroke-width="0.25" textLength="32.5" lengthAdjust="spacingAndGlyphs">1.19110</text>
<rect x="1169" y="75" width="2" height="1" fill="#000"/>
<text x="1174.3" y="79" font-size="10.2" fill="#000" stroke="#000" stroke-width="0.25" textLength="32.5" lengthAdjust="spacingAndGlyphs">1.18370</text>
<rect x="1169" y="108" width="2" height="1" fill="#000"/>
<text x="1174.3" y="112" font-size="10.2" fill="#000" stroke="#000" stroke-width="0.25" textLength="32.5" lengthAdjust="spacingAndGlyphs">1.17630</text>
<rect x="1169" y="141" width="2" height="1" fill="#000"/>
<text x="1174.3" y="145" font-size="10.2" fill="#000" stroke="#000" stroke-width="0.25" textLength="32.5" lengthAdjust="spacingAndGlyphs">1.16890</text>
<rect x="1169" y="174" width="2" height="1" fill="#000"/>
<text x="1174.3" y="178" font-size="10.2" fill="#000" stroke="#000" stroke-width="0.25" textLength="32.5" lengthAdjust="spacingAndGlyphs">1.16150</text>
<rect x="1169" y="207" width="2" height="1" fill="#000"/>
<text x="1174.3" y="211" font-size="10.2" fill="#000" stroke="#000" stroke-width="0.25" textLength="32.5" lengthAdjust="spacingAndGlyphs">1.15410</text>
<rect x="1169" y="240" width="2" height="1" fill="#000"/>
<text x="1174.3" y="244" font-size="10.2" fill="#000" stroke="#000" stroke-width="0.25" textLength="32.5" lengthAdjust="spacingAndGlyphs">1.14670</text>
<rect x="1169" y="273" width="2" height="1" fill="#000"/>
<text x="1174.3" y="277" font-size="10.2" fill="#000" stroke="#000" stroke-width="0.25" textLength="32.5" lengthAdjust="spacingAndGlyphs">1.13930</text>
<rect x="1169" y="306" width="2" height="1" fill="#000"/>
<text x="1174.3" y="310" font-size="10.2" fill="#000" stroke="#000" stroke-width="0.25" textLength="32.5" lengthAdjust="spacingAndGlyphs">1.13210</text>
<rect x="1169" y="339" width="2" height="1" fill="#000"/>
<text x="1174.3" y="343" font-size="10.2" fill="#000" stroke="#000" stroke-width="0.25" textLength="32.5" lengthAdjust="spacingAndGlyphs">1.12470</text>
<rect x="1169" y="372" width="2" height="1" fill="#000"/>
<text x="1174.3" y="376" font-size="10.2" fill="#000" stroke="#000" stroke-width="0.25" textLength="32.5" lengthAdjust="spacingAndGlyphs">1.11730</text>
<rect x="1170" y="130" width="40" height="11" fill="#ff0000"/>
<text x="1174.5" y="139" font-size="10.2" fill="#fff" textLength="32" lengthAdjust="spacingAndGlyphs">1.17001</text>
<rect x="1170" y="206" width="40" height="11" fill="#ff0000"/>
<text x="1174.5" y="215" font-size="10.2" fill="#fff" textLength="32" lengthAdjust="spacingAndGlyphs">1.15313</text>
<rect x="1170" y="264" width="40" height="11" fill="#00ff00"/>
<text x="1174.5" y="273" font-size="10.2" fill="#fff" textLength="32" lengthAdjust="spacingAndGlyphs">1.14016</text>
<rect x="1170" y="297" width="40" height="11" fill="#000000"/>
<text x="1174.5" y="306" font-size="10.2" fill="#fff" textLength="32" lengthAdjust="spacingAndGlyphs">1.13298</text>
<rect x="1170" y="354" width="40" height="11" fill="#0000ff"/>
<text x="1174.5" y="363" font-size="10.2" fill="#fff" textLength="32" lengthAdjust="spacingAndGlyphs">1.11999</text>
<g clip-path="url(#cd)">
<rect x="5" y="392" width="3" height="4" fill="#c0c0c0"/>
<rect x="13" y="392" width="3" height="3" fill="#c0c0c0"/>
<rect x="21" y="391" width="3" height="1" fill="#c0c0c0"/>
<rect x="29" y="391" width="3" height="1" fill="#c0c0c0"/>
<rect x="37" y="390" width="3" height="2" fill="#c0c0c0"/>
<rect x="45" y="382" width="3" height="10" fill="#c0c0c0"/>
<rect x="53" y="381" width="3" height="11" fill="#c0c0c0"/>
<rect x="61" y="389" width="3" height="3" fill="#c0c0c0"/>
<rect x="69" y="389" width="3" height="3" fill="#c0c0c0"/>
<rect x="77" y="384" width="3" height="8" fill="#c0c0c0"/>
<rect x="85" y="389" width="3" height="3" fill="#c0c0c0"/>
<rect x="93" y="390" width="3" height="2" fill="#c0c0c0"/>
<rect x="101" y="390" width="3" height="2" fill="#c0c0c0"/>
<rect x="109" y="390" width="3" height="2" fill="#c0c0c0"/>
<rect x="117" y="389" width="3" height="3" fill="#c0c0c0"/>
<rect x="125" y="391" width="3" height="1" fill="#c0c0c0"/>
<rect x="133" y="392" width="3" height="3" fill="#c0c0c0"/>
<rect x="141" y="392" width="3" height="5" fill="#c0c0c0"/>
<rect x="149" y="392" width="3" height="7" fill="#c0c0c0"/>
<rect x="157" y="392" width="3" height="9" fill="#c0c0c0"/>
<rect x="165" y="392" width="3" height="11" fill="#c0c0c0"/>
<rect x="173" y="392" width="3" height="11" fill="#c0c0c0"/>
<rect x="181" y="392" width="3" height="12" fill="#c0c0c0"/>
<rect x="189" y="392" width="3" height="12" fill="#c0c0c0"/>
<rect x="197" y="392" width="3" height="13" fill="#c0c0c0"/>
<rect x="205" y="392" width="3" height="14" fill="#c0c0c0"/>
<rect x="213" y="392" width="3" height="18" fill="#c0c0c0"/>
<rect x="221" y="392" width="3" height="22" fill="#c0c0c0"/>
<rect x="229" y="392" width="3" height="24" fill="#c0c0c0"/>
<rect x="237" y="392" width="3" height="24" fill="#c0c0c0"/>
<rect x="245" y="392" width="3" height="24" fill="#c0c0c0"/>
<rect x="253" y="392" width="3" height="25" fill="#c0c0c0"/>
<rect x="261" y="392" width="3" height="27" fill="#c0c0c0"/>
<rect x="269" y="392" width="3" height="27" fill="#c0c0c0"/>
<rect x="277" y="392" width="3" height="27" fill="#c0c0c0"/>
<rect x="285" y="392" width="3" height="27" fill="#c0c0c0"/>
<rect x="293" y="392" width="3" height="27" fill="#c0c0c0"/>
<rect x="301" y="392" width="3" height="28" fill="#c0c0c0"/>
<rect x="309" y="392" width="3" height="25" fill="#c0c0c0"/>
<rect x="317" y="392" width="3" height="24" fill="#c0c0c0"/>
<rect x="325" y="392" width="3" height="21" fill="#c0c0c0"/>
<rect x="333" y="392" width="3" height="20" fill="#c0c0c0"/>
<rect x="341" y="392" width="3" height="18" fill="#c0c0c0"/>
<rect x="349" y="392" width="3" height="15" fill="#c0c0c0"/>
<rect x="357" y="392" width="3" height="12" fill="#c0c0c0"/>
<rect x="365" y="392" width="3" height="11" fill="#c0c0c0"/>
<rect x="373" y="392" width="3" height="9" fill="#c0c0c0"/>
<rect x="381" y="392" width="3" height="8" fill="#c0c0c0"/>
<rect x="389" y="392" width="3" height="8" fill="#c0c0c0"/>
<rect x="397" y="392" width="3" height="8" fill="#c0c0c0"/>
<rect x="405" y="392" width="3" height="8" fill="#c0c0c0"/>
<rect x="413" y="392" width="3" height="5" fill="#c0c0c0"/>
<rect x="421" y="392" width="3" height="7" fill="#c0c0c0"/>
<rect x="429" y="392" width="3" height="8" fill="#c0c0c0"/>
<rect x="437" y="392" width="3" height="7" fill="#c0c0c0"/>
<rect x="445" y="392" width="3" height="9" fill="#c0c0c0"/>
<rect x="453" y="392" width="3" height="7" fill="#c0c0c0"/>
<rect x="461" y="392" width="3" height="8" fill="#c0c0c0"/>
<rect x="469" y="392" width="3" height="10" fill="#c0c0c0"/>
<rect x="477" y="392" width="3" height="10" fill="#c0c0c0"/>
<rect x="485" y="392" width="3" height="9" fill="#c0c0c0"/>
<rect x="493" y="392" width="3" height="8" fill="#c0c0c0"/>
<rect x="501" y="392" width="3" height="12" fill="#c0c0c0"/>
<rect x="509" y="392" width="3" height="15" fill="#c0c0c0"/>
<rect x="517" y="392" width="3" height="18" fill="#c0c0c0"/>
<rect x="525" y="392" width="3" height="21" fill="#c0c0c0"/>
<rect x="533" y="392" width="3" height="25" fill="#c0c0c0"/>
<rect x="541" y="392" width="3" height="30" fill="#c0c0c0"/>
<rect x="549" y="392" width="3" height="33" fill="#c0c0c0"/>
<rect x="557" y="392" width="3" height="34" fill="#c0c0c0"/>
<rect x="565" y="392" width="3" height="37" fill="#c0c0c0"/>
<rect x="573" y="392" width="3" height="39" fill="#c0c0c0"/>
<rect x="581" y="392" width="3" height="42" fill="#c0c0c0"/>
<rect x="589" y="392" width="3" height="43" fill="#c0c0c0"/>
<rect x="597" y="392" width="3" height="46" fill="#c0c0c0"/>
<rect x="605" y="392" width="3" height="47" fill="#c0c0c0"/>
<rect x="613" y="392" width="3" height="43" fill="#c0c0c0"/>
<rect x="621" y="392" width="3" height="40" fill="#c0c0c0"/>
<rect x="629" y="392" width="3" height="38" fill="#c0c0c0"/>
<rect x="637" y="392" width="3" height="35" fill="#c0c0c0"/>
<rect x="645" y="392" width="3" height="32" fill="#c0c0c0"/>
<rect x="653" y="392" width="3" height="30" fill="#c0c0c0"/>
<rect x="661" y="392" width="3" height="27" fill="#c0c0c0"/>
<rect x="669" y="392" width="3" height="26" fill="#c0c0c0"/>
<rect x="677" y="392" width="3" height="25" fill="#c0c0c0"/>
<rect x="685" y="392" width="3" height="24" fill="#c0c0c0"/>
<rect x="693" y="392" width="3" height="21" fill="#c0c0c0"/>
<rect x="701" y="392" width="3" height="20" fill="#c0c0c0"/>
<rect x="709" y="392" width="3" height="18" fill="#c0c0c0"/>
<rect x="717" y="392" width="3" height="16" fill="#c0c0c0"/>
<rect x="725" y="392" width="3" height="17" fill="#c0c0c0"/>
<rect x="733" y="392" width="3" height="16" fill="#c0c0c0"/>
<rect x="741" y="392" width="3" height="16" fill="#c0c0c0"/>
<rect x="749" y="392" width="3" height="14" fill="#c0c0c0"/>
<rect x="757" y="392" width="3" height="15" fill="#c0c0c0"/>
<rect x="765" y="392" width="3" height="15" fill="#c0c0c0"/>
<rect x="773" y="392" width="3" height="15" fill="#c0c0c0"/>
<rect x="781" y="392" width="3" height="14" fill="#c0c0c0"/>
<rect x="789" y="392" width="3" height="11" fill="#c0c0c0"/>
<rect x="797" y="392" width="3" height="9" fill="#c0c0c0"/>
<rect x="805" y="392" width="3" height="8" fill="#c0c0c0"/>
<rect x="813" y="392" width="3" height="7" fill="#c0c0c0"/>
<rect x="821" y="392" width="3" height="5" fill="#c0c0c0"/>
<rect x="829" y="392" width="3" height="5" fill="#c0c0c0"/>
<rect x="837" y="392" width="3" height="3" fill="#c0c0c0"/>
<rect x="845" y="392" width="3" height="2" fill="#c0c0c0"/>
<rect x="853" y="391" width="3" height="1" fill="#c0c0c0"/>
<rect x="861" y="389" width="3" height="3" fill="#c0c0c0"/>
<rect x="869" y="390" width="3" height="2" fill="#c0c0c0"/>
<rect x="877" y="392" width="3" height="1" fill="#c0c0c0"/>
<rect x="885" y="392" width="3" height="1" fill="#c0c0c0"/>
<rect x="893" y="392" width="3" height="3" fill="#c0c0c0"/>
<rect x="909" y="391" width="3" height="1" fill="#c0c0c0"/>
<rect x="917" y="391" width="3" height="1" fill="#c0c0c0"/>
</g>
<path d="M82 385h40v1h-40zM74 386h8v1h-8zM122 386h8v1h-8zM66 387h8v1h-8zM130 387h8v1h-8zM60 388h6v1h-6zM138 388h6v1h-6zM56 389h4v1h-4zM144 389h4v1h-4zM52 390h4v1h-4zM148 390h4v1h-4zM48 391h4v1h-4zM152 391h4v1h-4zM914 391h5v1h-5zM44 392h4v1h-4zM156 392h4v1h-4zM890 392h24v1h-24zM40 393h4v1h-4zM160 393h4v1h-4zM874 393h16v1h-16zM37 394h3v1h-3zM164 394h6v1h-6zM866 394h8v1h-8zM34 395h3v1h-3zM170 395h6v1h-6zM860 395h6v1h-6zM32 396h2v1h-2zM176 396h4v1h-4zM856 396h4v1h-4zM28 397h4v1h-4zM180 397h6v1h-6zM850 397h6v1h-6zM24 398h4v1h-4zM186 398h6v1h-6zM842 398h8v1h-8zM21 399h3v1h-3zM192 399h4v1h-4zM418 399h64v1h-64zM836 399h6v1h-6zM18 400h3v1h-3zM196 400h4v1h-4zM412 400h6v1h-6zM482 400h24v1h-24zM832 400h4v1h-4zM16 401h2v1h-2zM200 401h4v1h-4zM408 401h4v1h-4zM506 401h8v1h-8zM826 401h6v1h-6zM10 402h6v1h-6zM204 402h6v1h-6zM402 402h6v1h-6zM514 402h8v1h-8zM818 402h8v1h-8zM6 403h4v1h-4zM210 403h6v1h-6zM396 403h6v1h-6zM522 403h6v1h-6zM810 403h8v1h-8zM216 404h4v1h-4zM392 404h4v1h-4zM528 404h4v1h-4zM802 404h8v1h-8zM220 405h6v1h-6zM386 405h6v1h-6zM532 405h4v1h-4zM794 405h8v1h-8zM226 406h6v1h-6zM380 406h6v1h-6zM536 406h4v1h-4zM778 406h16v1h-16zM232 407h4v1h-4zM376 407h4v1h-4zM540 407h4v1h-4zM762 407h16v1h-16zM236 408h6v1h-6zM372 408h4v1h-4zM544 408h2v1h-2zM754 408h8v1h-8zM242 409h6v1h-6zM368 409h4v1h-4zM546 409h3v1h-3zM746 409h8v1h-8zM248 410h4v1h-4zM364 410h4v1h-4zM549 410h3v1h-3zM738 410h8v1h-8zM252 411h6v1h-6zM360 411h4v1h-4zM552 411h2v1h-2zM732 411h6v1h-6zM258 412h6v1h-6zM356 412h4v1h-4zM554 412h3v1h-3zM728 412h4v1h-4zM264 413h4v1h-4zM352 413h4v1h-4zM557 413h3v1h-3zM722 413h6v1h-6zM268 414h6v1h-6zM346 414h6v1h-6zM560 414h2v1h-2zM716 414h6v1h-6zM274 415h8v1h-8zM338 415h8v1h-8zM562 415h3v1h-3zM712 415h4v1h-4zM282 416h8v1h-8zM330 416h8v1h-8zM565 416h3v1h-3zM708 416h4v1h-4zM290 417h40v1h-40zM568 417h2v1h-2zM704 417h4v1h-4zM570 418h3v1h-3zM700 418h4v1h-4zM573 419h3v1h-3zM696 419h4v1h-4zM576 420h2v1h-2zM692 420h4v1h-4zM578 421h3v1h-3zM688 421h4v1h-4zM581 422h3v1h-3zM684 422h4v1h-4zM584 423h2v1h-2zM680 423h4v1h-4zM586 424h3v1h-3zM676 424h4v1h-4zM589 425h3v1h-3zM672 425h4v1h-4zM592 426h4v1h-4zM668 426h4v1h-4zM596 427h4v1h-4zM664 427h4v1h-4zM600 428h2v1h-2zM660 428h4v1h-4zM602 429h3v1h-3zM656 429h4v1h-4zM605 430h5v1h-5zM652 430h4v1h-4zM610 431h8v1h-8zM648 431h4v1h-4zM618 432h8v1h-8zM634 432h14v1h-14zM626 433h8v1h-8z" fill="#ff0000"/>
<rect x="5" y="377" width="1164" height="1" fill="#000"/>
<rect x="5" y="441" width="1164" height="1" fill="#000"/>
<rect x="5" y="377" width="1" height="65" fill="#000"/>
<rect x="1168" y="377" width="1" height="65" fill="#000"/>
<text x="10.3" y="390" font-size="10.2" fill="#000" stroke="#000" stroke-width="0.25" textLength="147.2" lengthAdjust="spacingAndGlyphs">MACD(12,26,9) 0.000328 0.000192</text>
<rect x="1169" y="379" width="1" height="1" fill="#000"/>
<rect x="1169" y="392" width="2" height="1" fill="#000"/>
<rect x="1169" y="440" width="1" height="1" fill="#000"/>
<text x="1172" y="388" font-size="10.2" fill="#000" stroke="#000" stroke-width="0.25" textLength="38.5" lengthAdjust="spacingAndGlyphs">0.002966</text>
<text x="1172" y="396" font-size="10.2" fill="#000" stroke="#000" stroke-width="0.25" textLength="17.5" lengthAdjust="spacingAndGlyphs">0.00</text>
<text x="1171.9" y="438" font-size="10.2" fill="#000" stroke="#000" stroke-width="0.25" textLength="42" lengthAdjust="spacingAndGlyphs">-0.010422</text>
<g fill="#c0c0c0"><rect x="7" y="464" width="3" height="1"/><rect x="13" y="464" width="3" height="1"/><rect x="19" y="464" width="3" height="1"/><rect x="25" y="464" width="3" height="1"/><rect x="31" y="464" width="3" height="1"/><rect x="37" y="464" width="3" height="1"/><rect x="43" y="464" width="3" height="1"/><rect x="49" y="464" width="3" height="1"/><rect x="55" y="464" width="3" height="1"/><rect x="61" y="464" width="3" height="1"/><rect x="67" y="464" width="3" height="1"/><rect x="73" y="464" width="3" height="1"/><rect x="79" y="464" width="3" height="1"/><rect x="85" y="464" width="3" height="1"/><rect x="91" y="464" width="3" height="1"/><rect x="97" y="464" width="3" height="1"/><rect x="103" y="464" width="3" height="1"/><rect x="109" y="464" width="3" height="1"/><rect x="115" y="464" width="3" height="1"/><rect x="121" y="464" width="3" height="1"/><rect x="127" y="464" width="3" height="1"/><rect x="133" y="464" width="3" height="1"/><rect x="139" y="464" width="3" height="1"/><rect x="145" y="464" width="3" height="1"/><rect x="151" y="464" width="3" height="1"/><rect x="157" y="464" width="3" height="1"/><rect x="163" y="464" width="3" height="1"/><rect x="169" y="464" width="3" height="1"/><rect x="175" y="464" width="3" height="1"/><rect x="181" y="464" width="3" height="1"/><rect x="187" y="464" width="3" height="1"/><rect x="193" y="464" width="3" height="1"/><rect x="199" y="464" width="3" height="1"/><rect x="205" y="464" width="3" height="1"/><rect x="211" y="464" width="3" height="1"/><rect x="217" y="464" width="3" height="1"/><rect x="223" y="464" width="3" height="1"/><rect x="229" y="464" width="3" height="1"/><rect x="235" y="464" width="3" height="1"/><rect x="241" y="464" width="3" height="1"/><rect x="247" y="464" width="3" height="1"/><rect x="253" y="464" width="3" height="1"/><rect x="259" y="464" width="3" height="1"/><rect x="265" y="464" width="3" height="1"/><rect x="271" y="464" width="3" height="1"/><rect x="277" y="464" width="3" height="1"/><rect x="283" y="464" width="3" height="1"/><rect x="289" y="464" width="3" height="1"/><rect x="295" y="464" width="3" height="1"/><rect x="301" y="464" width="3" height="1"/><rect x="307" y="464" width="3" height="1"/><rect x="313" y="464" width="3" height="1"/><rect x="319" y="464" width="3" height="1"/><rect x="325" y="464" width="3" height="1"/><rect x="331" y="464" width="3" height="1"/><rect x="337" y="464" width="3" height="1"/><rect x="343" y="464" width="3" height="1"/><rect x="349" y="464" width="3" height="1"/><rect x="355" y="464" width="3" height="1"/><rect x="361" y="464" width="3" height="1"/><rect x="367" y="464" width="3" height="1"/><rect x="373" y="464" width="3" height="1"/><rect x="379" y="464" width="3" height="1"/><rect x="385" y="464" width="3" height="1"/><rect x="391" y="464" width="3" height="1"/><rect x="397" y="464" width="3" height="1"/><rect x="403" y="464" width="3" height="1"/><rect x="409" y="464" width="3" height="1"/><rect x="415" y="464" width="3" height="1"/><rect x="421" y="464" width="3" height="1"/><rect x="427" y="464" width="3" height="1"/><rect x="433" y="464" width="3" height="1"/><rect x="439" y="464" width="3" height="1"/><rect x="445" y="464" width="3" height="1"/><rect x="451" y="464" width="3" height="1"/><rect x="457" y="464" width="3" height="1"/><rect x="463" y="464" width="3" height="1"/><rect x="469" y="464" width="3" height="1"/><rect x="475" y="464" width="3" height="1"/><rect x="481" y="464" width="3" height="1"/><rect x="487" y="464" width="3" height="1"/><rect x="493" y="464" width="3" height="1"/><rect x="499" y="464" width="3" height="1"/><rect x="505" y="464" width="3" height="1"/><rect x="511" y="464" width="3" height="1"/><rect x="517" y="464" width="3" height="1"/><rect x="523" y="464" width="3" height="1"/><rect x="529" y="464" width="3" height="1"/><rect x="535" y="464" width="3" height="1"/><rect x="541" y="464" width="3" height="1"/><rect x="547" y="464" width="3" height="1"/><rect x="553" y="464" width="3" height="1"/><rect x="559" y="464" width="3" height="1"/><rect x="565" y="464" width="3" height="1"/><rect x="571" y="464" width="3" height="1"/><rect x="577" y="464" width="3" height="1"/><rect x="583" y="464" width="3" height="1"/><rect x="589" y="464" width="3" height="1"/><rect x="595" y="464" width="3" height="1"/><rect x="601" y="464" width="3" height="1"/><rect x="607" y="464" width="3" height="1"/><rect x="613" y="464" width="3" height="1"/><rect x="619" y="464" width="3" height="1"/><rect x="625" y="464" width="3" height="1"/><rect x="631" y="464" width="3" height="1"/><rect x="637" y="464" width="3" height="1"/><rect x="643" y="464" width="3" height="1"/><rect x="649" y="464" width="3" height="1"/><rect x="655" y="464" width="3" height="1"/><rect x="661" y="464" width="3" height="1"/><rect x="667" y="464" width="3" height="1"/><rect x="673" y="464" width="3" height="1"/><rect x="679" y="464" width="3" height="1"/><rect x="685" y="464" width="3" height="1"/><rect x="691" y="464" width="3" height="1"/><rect x="697" y="464" width="3" height="1"/><rect x="703" y="464" width="3" height="1"/><rect x="709" y="464" width="3" height="1"/><rect x="715" y="464" width="3" height="1"/><rect x="721" y="464" width="3" height="1"/><rect x="727" y="464" width="3" height="1"/><rect x="733" y="464" width="3" height="1"/><rect x="739" y="464" width="3" height="1"/><rect x="745" y="464" width="3" height="1"/><rect x="751" y="464" width="3" height="1"/><rect x="757" y="464" width="3" height="1"/><rect x="763" y="464" width="3" height="1"/><rect x="769" y="464" width="3" height="1"/><rect x="775" y="464" width="3" height="1"/><rect x="781" y="464" width="3" height="1"/><rect x="787" y="464" width="3" height="1"/><rect x="793" y="464" width="3" height="1"/><rect x="799" y="464" width="3" height="1"/><rect x="805" y="464" width="3" height="1"/><rect x="811" y="464" width="3" height="1"/><rect x="817" y="464" width="3" height="1"/><rect x="823" y="464" width="3" height="1"/><rect x="829" y="464" width="3" height="1"/><rect x="835" y="464" width="3" height="1"/><rect x="841" y="464" width="3" height="1"/><rect x="847" y="464" width="3" height="1"/><rect x="853" y="464" width="3" height="1"/><rect x="859" y="464" width="3" height="1"/><rect x="865" y="464" width="3" height="1"/><rect x="871" y="464" width="3" height="1"/><rect x="877" y="464" width="3" height="1"/><rect x="883" y="464" width="3" height="1"/><rect x="889" y="464" width="3" height="1"/><rect x="895" y="464" width="3" height="1"/><rect x="901" y="464" width="3" height="1"/><rect x="907" y="464" width="3" height="1"/><rect x="913" y="464" width="3" height="1"/><rect x="919" y="464" width="3" height="1"/><rect x="925" y="464" width="3" height="1"/><rect x="931" y="464" width="3" height="1"/><rect x="937" y="464" width="3" height="1"/><rect x="943" y="464" width="3" height="1"/><rect x="949" y="464" width="3" height="1"/><rect x="955" y="464" width="3" height="1"/><rect x="961" y="464" width="3" height="1"/><rect x="967" y="464" width="3" height="1"/><rect x="973" y="464" width="3" height="1"/><rect x="979" y="464" width="3" height="1"/><rect x="985" y="464" width="3" height="1"/><rect x="991" y="464" width="3" height="1"/><rect x="997" y="464" width="3" height="1"/><rect x="1003" y="464" width="3" height="1"/><rect x="1009" y="464" width="3" height="1"/><rect x="1015" y="464" width="3" height="1"/><rect x="1021" y="464" width="3" height="1"/><rect x="1027" y="464" width="3" height="1"/><rect x="1033" y="464" width="3" height="1"/><rect x="1039" y="464" width="3" height="1"/><rect x="1045" y="464" width="3" height="1"/><rect x="1051" y="464" width="3" height="1"/><rect x="1057" y="464" width="3" height="1"/><rect x="1063" y="464" width="3" height="1"/><rect x="1069" y="464" width="3" height="1"/><rect x="1075" y="464" width="3" height="1"/><rect x="1081" y="464" width="3" height="1"/><rect x="1087" y="464" width="3" height="1"/><rect x="1093" y="464" width="3" height="1"/><rect x="1099" y="464" width="3" height="1"/><rect x="1105" y="464" width="3" height="1"/><rect x="1111" y="464" width="3" height="1"/><rect x="1117" y="464" width="3" height="1"/><rect x="1123" y="464" width="3" height="1"/><rect x="1129" y="464" width="3" height="1"/><rect x="1135" y="464" width="3" height="1"/><rect x="1141" y="464" width="3" height="1"/><rect x="1147" y="464" width="3" height="1"/><rect x="1153" y="464" width="3" height="1"/><rect x="1159" y="464" width="3" height="1"/><rect x="1165" y="464" width="3" height="1"/><rect x="7" y="489" width="3" height="1"/><rect x="13" y="489" width="3" height="1"/><rect x="19" y="489" width="3" height="1"/><rect x="25" y="489" width="3" height="1"/><rect x="31" y="489" width="3" height="1"/><rect x="37" y="489" width="3" height="1"/><rect x="43" y="489" width="3" height="1"/><rect x="49" y="489" width="3" height="1"/><rect x="55" y="489" width="3" height="1"/><rect x="61" y="489" width="3" height="1"/><rect x="67" y="489" width="3" height="1"/><rect x="73" y="489" width="3" height="1"/><rect x="79" y="489" width="3" height="1"/><rect x="85" y="489" width="3" height="1"/><rect x="91" y="489" width="3" height="1"/><rect x="97" y="489" width="3" height="1"/><rect x="103" y="489" width="3" height="1"/><rect x="109" y="489" width="3" height="1"/><rect x="115" y="489" width="3" height="1"/><rect x="121" y="489" width="3" height="1"/><rect x="127" y="489" width="3" height="1"/><rect x="133" y="489" width="3" height="1"/><rect x="139" y="489" width="3" height="1"/><rect x="145" y="489" width="3" height="1"/><rect x="151" y="489" width="3" height="1"/><rect x="157" y="489" width="3" height="1"/><rect x="163" y="489" width="3" height="1"/><rect x="169" y="489" width="3" height="1"/><rect x="175" y="489" width="3" height="1"/><rect x="181" y="489" width="3" height="1"/><rect x="187" y="489" width="3" height="1"/><rect x="193" y="489" width="3" height="1"/><rect x="199" y="489" width="3" height="1"/><rect x="205" y="489" width="3" height="1"/><rect x="211" y="489" width="3" height="1"/><rect x="217" y="489" width="3" height="1"/><rect x="223" y="489" width="3" height="1"/><rect x="229" y="489" width="3" height="1"/><rect x="235" y="489" width="3" height="1"/><rect x="241" y="489" width="3" height="1"/><rect x="247" y="489" width="3" height="1"/><rect x="253" y="489" width="3" height="1"/><rect x="259" y="489" width="3" height="1"/><rect x="265" y="489" width="3" height="1"/><rect x="271" y="489" width="3" height="1"/><rect x="277" y="489" width="3" height="1"/><rect x="283" y="489" width="3" height="1"/><rect x="289" y="489" width="3" height="1"/><rect x="295" y="489" width="3" height="1"/><rect x="301" y="489" width="3" height="1"/><rect x="307" y="489" width="3" height="1"/><rect x="313" y="489" width="3" height="1"/><rect x="319" y="489" width="3" height="1"/><rect x="325" y="489" width="3" height="1"/><rect x="331" y="489" width="3" height="1"/><rect x="337" y="489" width="3" height="1"/><rect x="343" y="489" width="3" height="1"/><rect x="349" y="489" width="3" height="1"/><rect x="355" y="489" width="3" height="1"/><rect x="361" y="489" width="3" height="1"/><rect x="367" y="489" width="3" height="1"/><rect x="373" y="489" width="3" height="1"/><rect x="379" y="489" width="3" height="1"/><rect x="385" y="489" width="3" height="1"/><rect x="391" y="489" width="3" height="1"/><rect x="397" y="489" width="3" height="1"/><rect x="403" y="489" width="3" height="1"/><rect x="409" y="489" width="3" height="1"/><rect x="415" y="489" width="3" height="1"/><rect x="421" y="489" width="3" height="1"/><rect x="427" y="489" width="3" height="1"/><rect x="433" y="489" width="3" height="1"/><rect x="439" y="489" width="3" height="1"/><rect x="445" y="489" width="3" height="1"/><rect x="451" y="489" width="3" height="1"/><rect x="457" y="489" width="3" height="1"/><rect x="463" y="489" width="3" height="1"/><rect x="469" y="489" width="3" height="1"/><rect x="475" y="489" width="3" height="1"/><rect x="481" y="489" width="3" height="1"/><rect x="487" y="489" width="3" height="1"/><rect x="493" y="489" width="3" height="1"/><rect x="499" y="489" width="3" height="1"/><rect x="505" y="489" width="3" height="1"/><rect x="511" y="489" width="3" height="1"/><rect x="517" y="489" width="3" height="1"/><rect x="523" y="489" width="3" height="1"/><rect x="529" y="489" width="3" height="1"/><rect x="535" y="489" width="3" height="1"/><rect x="541" y="489" width="3" height="1"/><rect x="547" y="489" width="3" height="1"/><rect x="553" y="489" width="3" height="1"/><rect x="559" y="489" width="3" height="1"/><rect x="565" y="489" width="3" height="1"/><rect x="571" y="489" width="3" height="1"/><rect x="577" y="489" width="3" height="1"/><rect x="583" y="489" width="3" height="1"/><rect x="589" y="489" width="3" height="1"/><rect x="595" y="489" width="3" height="1"/><rect x="601" y="489" width="3" height="1"/><rect x="607" y="489" width="3" height="1"/><rect x="613" y="489" width="3" height="1"/><rect x="619" y="489" width="3" height="1"/><rect x="625" y="489" width="3" height="1"/><rect x="631" y="489" width="3" height="1"/><rect x="637" y="489" width="3" height="1"/><rect x="643" y="489" width="3" height="1"/><rect x="649" y="489" width="3" height="1"/><rect x="655" y="489" width="3" height="1"/><rect x="661" y="489" width="3" height="1"/><rect x="667" y="489" width="3" height="1"/><rect x="673" y="489" width="3" height="1"/><rect x="679" y="489" width="3" height="1"/><rect x="685" y="489" width="3" height="1"/><rect x="691" y="489" width="3" height="1"/><rect x="697" y="489" width="3" height="1"/><rect x="703" y="489" width="3" height="1"/><rect x="709" y="489" width="3" height="1"/><rect x="715" y="489" width="3" height="1"/><rect x="721" y="489" width="3" height="1"/><rect x="727" y="489" width="3" height="1"/><rect x="733" y="489" width="3" height="1"/><rect x="739" y="489" width="3" height="1"/><rect x="745" y="489" width="3" height="1"/><rect x="751" y="489" width="3" height="1"/><rect x="757" y="489" width="3" height="1"/><rect x="763" y="489" width="3" height="1"/><rect x="769" y="489" width="3" height="1"/><rect x="775" y="489" width="3" height="1"/><rect x="781" y="489" width="3" height="1"/><rect x="787" y="489" width="3" height="1"/><rect x="793" y="489" width="3" height="1"/><rect x="799" y="489" width="3" height="1"/><rect x="805" y="489" width="3" height="1"/><rect x="811" y="489" width="3" height="1"/><rect x="817" y="489" width="3" height="1"/><rect x="823" y="489" width="3" height="1"/><rect x="829" y="489" width="3" height="1"/><rect x="835" y="489" width="3" height="1"/><rect x="841" y="489" width="3" height="1"/><rect x="847" y="489" width="3" height="1"/><rect x="853" y="489" width="3" height="1"/><rect x="859" y="489" width="3" height="1"/><rect x="865" y="489" width="3" height="1"/><rect x="871" y="489" width="3" height="1"/><rect x="877" y="489" width="3" height="1"/><rect x="883" y="489" width="3" height="1"/><rect x="889" y="489" width="3" height="1"/><rect x="895" y="489" width="3" height="1"/><rect x="901" y="489" width="3" height="1"/><rect x="907" y="489" width="3" height="1"/><rect x="913" y="489" width="3" height="1"/><rect x="919" y="489" width="3" height="1"/><rect x="925" y="489" width="3" height="1"/><rect x="931" y="489" width="3" height="1"/><rect x="937" y="489" width="3" height="1"/><rect x="943" y="489" width="3" height="1"/><rect x="949" y="489" width="3" height="1"/><rect x="955" y="489" width="3" height="1"/><rect x="961" y="489" width="3" height="1"/><rect x="967" y="489" width="3" height="1"/><rect x="973" y="489" width="3" height="1"/><rect x="979" y="489" width="3" height="1"/><rect x="985" y="489" width="3" height="1"/><rect x="991" y="489" width="3" height="1"/><rect x="997" y="489" width="3" height="1"/><rect x="1003" y="489" width="3" height="1"/><rect x="1009" y="489" width="3" height="1"/><rect x="1015" y="489" width="3" height="1"/><rect x="1021" y="489" width="3" height="1"/><rect x="1027" y="489" width="3" height="1"/><rect x="1033" y="489" width="3" height="1"/><rect x="1039" y="489" width="3" height="1"/><rect x="1045" y="489" width="3" height="1"/><rect x="1051" y="489" width="3" height="1"/><rect x="1057" y="489" width="3" height="1"/><rect x="1063" y="489" width="3" height="1"/><rect x="1069" y="489" width="3" height="1"/><rect x="1075" y="489" width="3" height="1"/><rect x="1081" y="489" width="3" height="1"/><rect x="1087" y="489" width="3" height="1"/><rect x="1093" y="489" width="3" height="1"/><rect x="1099" y="489" width="3" height="1"/><rect x="1105" y="489" width="3" height="1"/><rect x="1111" y="489" width="3" height="1"/><rect x="1117" y="489" width="3" height="1"/><rect x="1123" y="489" width="3" height="1"/><rect x="1129" y="489" width="3" height="1"/><rect x="1135" y="489" width="3" height="1"/><rect x="1141" y="489" width="3" height="1"/><rect x="1147" y="489" width="3" height="1"/><rect x="1153" y="489" width="3" height="1"/><rect x="1159" y="489" width="3" height="1"/><rect x="1165" y="489" width="3" height="1"/></g>
<path d="M34 465h8v1h-8zM29 466h5v1h-5zM42 466h6v1h-6zM26 467h3v1h-3zM48 467h4v1h-4zM24 468h2v1h-2zM52 468h3v1h-3zM21 469h3v1h-3zM55 469h2v1h-2zM18 470h3v1h-3zM57 470h2v1h-2zM16 471h2v1h-2zM59 471h2v1h-2zM414 471h1v1h-1zM12 472h4v1h-4zM61 472h3v1h-3zM413 472h1v1h-1zM415 472h1v1h-1zM853 472h10v1h-10zM8 473h4v1h-4zM64 473h2v1h-2zM412 473h1v1h-1zM415 473h1v1h-1zM837 473h3v1h-3zM851 473h2v1h-2zM863 473h1v1h-1zM902 473h4v1h-4zM6 474h2v1h-2zM66 474h3v1h-3zM357 474h2v1h-2zM412 474h1v1h-1zM416 474h1v1h-1zM835 474h2v1h-2zM840 474h2v1h-2zM849 474h2v1h-2zM864 474h2v1h-2zM900 474h2v1h-2zM906 474h6v1h-6zM69 475h13v1h-13zM117 475h2v1h-2zM354 475h3v1h-3zM359 475h2v1h-2zM411 475h1v1h-1zM417 475h1v1h-1zM818 475h6v1h-6zM833 475h2v1h-2zM842 475h3v1h-3zM847 475h2v1h-2zM866 475h1v1h-1zM899 475h1v1h-1zM912 475h4v1h-4zM82 476h22v1h-22zM114 476h3v1h-3zM119 476h1v1h-1zM352 476h2v1h-2zM361 476h2v1h-2zM372 476h11v1h-11zM410 476h1v1h-1zM418 476h1v1h-1zM749 476h2v1h-2zM789 476h13v1h-13zM810 476h8v1h-8zM824 476h4v1h-4zM831 476h2v1h-2zM845 476h2v1h-2zM867 476h1v1h-1zM898 476h1v1h-1zM916 476h3v1h-3zM104 477h4v1h-4zM112 477h2v1h-2zM120 477h1v1h-1zM348 477h4v1h-4zM363 477h2v1h-2zM368 477h4v1h-4zM383 477h2v1h-2zM409 477h1v1h-1zM418 477h1v1h-1zM453 477h2v1h-2zM490 477h5v1h-5zM694 477h1v1h-1zM747 477h2v1h-2zM751 477h1v1h-1zM786 477h3v1h-3zM802 477h8v1h-8zM828 477h3v1h-3zM868 477h2v1h-2zM885 477h3v1h-3zM896 477h2v1h-2zM108 478h4v1h-4zM121 478h1v1h-1zM344 478h4v1h-4zM365 478h3v1h-3zM385 478h2v1h-2zM408 478h1v1h-1zM419 478h1v1h-1zM437 478h3v1h-3zM450 478h3v1h-3zM455 478h2v1h-2zM484 478h6v1h-6zM495 478h1v1h-1zM693 478h1v1h-1zM695 478h2v1h-2zM745 478h2v1h-2zM752 478h2v1h-2zM784 478h2v1h-2zM870 478h2v1h-2zM882 478h3v1h-3zM888 478h4v1h-4zM895 478h1v1h-1zM122 479h2v1h-2zM340 479h4v1h-4zM387 479h2v1h-2zM408 479h1v1h-1zM420 479h1v1h-1zM435 479h2v1h-2zM440 479h4v1h-4zM448 479h2v1h-2zM457 479h2v1h-2zM480 479h4v1h-4zM496 479h1v1h-1zM692 479h1v1h-1zM697 479h2v1h-2zM708 479h12v1h-12zM743 479h2v1h-2zM754 479h1v1h-1zM778 479h6v1h-6zM872 479h4v1h-4zM880 479h2v1h-2zM892 479h3v1h-3zM124 480h1v1h-1zM324 480h6v1h-6zM336 480h4v1h-4zM389 480h5v1h-5zM407 480h1v1h-1zM421 480h1v1h-1zM433 480h2v1h-2zM444 480h4v1h-4zM459 480h2v1h-2zM474 480h6v1h-6zM497 480h1v1h-1zM690 480h2v1h-2zM699 480h2v1h-2zM704 480h4v1h-4zM720 480h2v1h-2zM741 480h2v1h-2zM755 480h1v1h-1zM773 480h5v1h-5zM876 480h4v1h-4zM125 481h1v1h-1zM174 481h2v1h-2zM320 481h4v1h-4zM330 481h6v1h-6zM394 481h13v1h-13zM421 481h1v1h-1zM431 481h2v1h-2zM461 481h13v1h-13zM498 481h1v1h-1zM637 481h13v1h-13zM689 481h1v1h-1zM701 481h3v1h-3zM722 481h3v1h-3zM738 481h3v1h-3zM756 481h2v1h-2zM770 481h3v1h-3zM126 482h1v1h-1zM173 482h1v1h-1zM176 482h4v1h-4zM186 482h6v1h-6zM310 482h10v1h-10zM422 482h9v1h-9zM499 482h1v1h-1zM634 482h3v1h-3zM650 482h22v1h-22zM688 482h1v1h-1zM725 482h5v1h-5zM736 482h2v1h-2zM758 482h4v1h-4zM768 482h2v1h-2zM127 483h2v1h-2zM172 483h1v1h-1zM180 483h6v1h-6zM192 483h2v1h-2zM309 483h1v1h-1zM500 483h1v1h-1zM614 483h4v1h-4zM632 483h2v1h-2zM672 483h4v1h-4zM687 483h1v1h-1zM730 483h6v1h-6zM762 483h6v1h-6zM129 484h2v1h-2zM171 484h1v1h-1zM194 484h3v1h-3zM308 484h1v1h-1zM501 484h1v1h-1zM613 484h1v1h-1zM618 484h14v1h-14zM676 484h11v1h-11zM131 485h2v1h-2zM170 485h1v1h-1zM197 485h5v1h-5zM307 485h1v1h-1zM502 485h2v1h-2zM612 485h1v1h-1zM133 486h27v1h-27zM169 486h1v1h-1zM202 486h5v1h-5zM306 486h1v1h-1zM504 486h4v1h-4zM612 486h1v1h-1zM160 487h2v1h-2zM168 487h1v1h-1zM207 487h2v1h-2zM242 487h13v1h-13zM277 487h5v1h-5zM306 487h1v1h-1zM508 487h19v1h-19zM558 487h1v1h-1zM611 487h1v1h-1zM162 488h3v1h-3zM167 488h1v1h-1zM209 488h2v1h-2zM236 488h6v1h-6zM255 488h2v1h-2zM274 488h3v1h-3zM282 488h8v1h-8zM305 488h1v1h-1zM527 488h2v1h-2zM556 488h2v1h-2zM559 488h2v1h-2zM610 488h1v1h-1zM165 489h2v1h-2zM211 489h2v1h-2zM232 489h4v1h-4zM257 489h2v1h-2zM272 489h2v1h-2zM290 489h6v1h-6zM304 489h1v1h-1zM529 489h2v1h-2zM555 489h1v1h-1zM561 489h2v1h-2zM609 489h1v1h-1zM213 490h3v1h-3zM229 490h3v1h-3zM259 490h2v1h-2zM266 490h6v1h-6zM296 490h4v1h-4zM303 490h1v1h-1zM531 490h2v1h-2zM554 490h1v1h-1zM563 490h2v1h-2zM608 490h1v1h-1zM216 491h2v1h-2zM226 491h3v1h-3zM261 491h5v1h-5zM300 491h3v1h-3zM533 491h3v1h-3zM552 491h2v1h-2zM565 491h21v1h-21zM608 491h1v1h-1zM218 492h3v1h-3zM224 492h2v1h-2zM536 492h4v1h-4zM551 492h1v1h-1zM586 492h6v1h-6zM607 492h1v1h-1zM221 493h3v1h-3zM540 493h11v1h-11zM592 493h4v1h-4zM602 493h5v1h-5zM596 494h6v1h-6z" fill="#1e90ff"/>
<rect x="5" y="443" width="1164" height="1" fill="#000"/>
<rect x="5" y="509" width="1164" height="1" fill="#000"/>
<rect x="5" y="443" width="1" height="67" fill="#000"/>
<rect x="1168" y="443" width="1" height="67" fill="#000"/>
<text x="10.3" y="456" font-size="10.2" fill="#000" stroke="#000" stroke-width="0.25" textLength="67.7" lengthAdjust="spacingAndGlyphs">RSI(14) 50.6709</text>
<rect x="1169" y="445" width="2" height="1" fill="#000"/>
<rect x="1169" y="464" width="2" height="1" fill="#000"/>
<rect x="1169" y="489" width="2" height="1" fill="#000"/>
<rect x="1169" y="508" width="2" height="1" fill="#000"/>
<text x="1171.8" y="454" font-size="10.2" fill="#000" stroke="#000" stroke-width="0.25" textLength="14.8" lengthAdjust="spacingAndGlyphs">100</text>
<text x="1171.8" y="468" font-size="10.2" fill="#000" stroke="#000" stroke-width="0.25" textLength="10" lengthAdjust="spacingAndGlyphs">70</text>
<text x="1171.8" y="493" font-size="10.2" fill="#000" stroke="#000" stroke-width="0.25" textLength="10" lengthAdjust="spacingAndGlyphs">30</text>
<text x="1171.8" y="506" font-size="10.2" fill="#000" stroke="#000" stroke-width="0.25" textLength="5" lengthAdjust="spacingAndGlyphs">0</text>
<rect x="6" y="510" width="1" height="3" fill="#000"/>
<text x="5.5" y="522" font-size="10.2" fill="#000" stroke="#000" stroke-width="0.25" textLength="53" lengthAdjust="spacingAndGlyphs">30 Aug 2021</text>
<rect x="70" y="510" width="1" height="3" fill="#000"/>
<text x="69.5" y="522" font-size="10.2" fill="#000" stroke="#000" stroke-width="0.25" textLength="47.3" lengthAdjust="spacingAndGlyphs">8 Sep 2021</text>
<rect x="134" y="510" width="1" height="3" fill="#000"/>
<text x="133.5" y="522" font-size="10.2" fill="#000" stroke="#000" stroke-width="0.25" textLength="51.8" lengthAdjust="spacingAndGlyphs">17 Sep 2021</text>
<rect x="198" y="510" width="1" height="3" fill="#000"/>
<text x="197.5" y="522" font-size="10.2" fill="#000" stroke="#000" stroke-width="0.25" textLength="51.8" lengthAdjust="spacingAndGlyphs">27 Sep 2021</text>
<rect x="262" y="510" width="1" height="3" fill="#000"/>
<text x="261.5" y="522" font-size="10.2" fill="#000" stroke="#000" stroke-width="0.25" textLength="46.5" lengthAdjust="spacingAndGlyphs">6 Oct 2021</text>
<rect x="326" y="510" width="1" height="3" fill="#000"/>
<text x="325.5" y="522" font-size="10.2" fill="#000" stroke="#000" stroke-width="0.25" textLength="51.6" lengthAdjust="spacingAndGlyphs">15 Oct 2021</text>
<rect x="390" y="510" width="1" height="3" fill="#000"/>
<text x="389.5" y="522" font-size="10.2" fill="#000" stroke="#000" stroke-width="0.25" textLength="51" lengthAdjust="spacingAndGlyphs">25 Oct 2021</text>
<rect x="454" y="510" width="1" height="3" fill="#000"/>
<text x="453.5" y="522" font-size="10.2" fill="#000" stroke="#000" stroke-width="0.25" textLength="49.5" lengthAdjust="spacingAndGlyphs">3 Nov 2021</text>
<rect x="518" y="510" width="1" height="3" fill="#000"/>
<text x="517.5" y="522" font-size="10.2" fill="#000" stroke="#000" stroke-width="0.25" textLength="53.9" lengthAdjust="spacingAndGlyphs">12 Nov 2021</text>
<rect x="582" y="510" width="1" height="3" fill="#000"/>
<text x="581.5" y="522" font-size="10.2" fill="#000" stroke="#000" stroke-width="0.25" textLength="54.5" lengthAdjust="spacingAndGlyphs">22 Nov 2021</text>
<rect x="646" y="510" width="1" height="3" fill="#000"/>
<text x="645.5" y="522" font-size="10.2" fill="#000" stroke="#000" stroke-width="0.25" textLength="47.5" lengthAdjust="spacingAndGlyphs">1 Dec 2021</text>
<rect x="710" y="510" width="1" height="3" fill="#000"/>
<text x="709.5" y="522" font-size="10.2" fill="#000" stroke="#000" stroke-width="0.25" textLength="51.6" lengthAdjust="spacingAndGlyphs">10 Dec 2021</text>
<rect x="774" y="510" width="1" height="3" fill="#000"/>
<text x="773.5" y="522" font-size="10.2" fill="#000" stroke="#000" stroke-width="0.25" textLength="51.6" lengthAdjust="spacingAndGlyphs">20 Dec 2021</text>
<rect x="838" y="510" width="1" height="3" fill="#000"/>
<text x="837.5" y="522" font-size="10.2" fill="#000" stroke="#000" stroke-width="0.25" textLength="51.6" lengthAdjust="spacingAndGlyphs">29 Dec 2021</text>
<rect x="902" y="510" width="1" height="3" fill="#000"/>
<text x="901.5" y="522" font-size="10.2" fill="#000" stroke="#000" stroke-width="0.25" textLength="45" lengthAdjust="spacingAndGlyphs">7 Jan 2022</text>
<rect x="0" y="530" width="1210" height="1" fill="#e3e3e3"/>
<rect x="0" y="531" width="1210" height="1" fill="#ffffff"/>
<rect x="0" y="532" width="1210" height="1" fill="#000000"/>
<rect x="0" y="533" width="1210" height="1" fill="#fafafa"/>
<rect x="0" y="534" width="1210" height="18" fill="#f0f0f0"/>
<rect x="0" y="552" width="1210" height="1" fill="#ffffff"/>
<rect x="0" y="553" width="1210" height="2" fill="#ededed"/>
<rect x="0" y="555" width="1210" height="1" fill="#dcdcdc"/>
<rect x="0" y="556" width="1210" height="1" fill="#a0a0a0"/>
<rect x="0" y="557" width="1210" height="2" fill="#ffffff"/>
<rect x="2" y="532" width="1" height="20" fill="#808080"/>
<rect x="1" y="551" width="2" height="1" fill="#a0a0a0"/>
<rect x="107" y="531" width="108" height="20" fill="#ffffff"/>
<rect x="107" y="532" width="1" height="19" fill="#000"/>
<rect x="214" y="532" width="1" height="19" fill="#000"/>
<rect x="107" y="550" width="108" height="1" fill="#000"/>
<text x="18" y="547" font-size="12.2" fill="#6a6a6a">USDX,Weekly</text>
<text x="118.6" y="547" font-size="12.2" fill="#000" stroke="#000" stroke-width="0.25" textLength="84" lengthAdjust="spacingAndGlyphs">EURUSD-,Daily</text>
<text x="225.4" y="547" font-size="12.2" fill="#6a6a6a" textLength="86.7" lengthAdjust="spacingAndGlyphs">AUDUSD-,Daily</text>
<text x="335.3" y="547" font-size="12.2" fill="#6a6a6a" textLength="72" lengthAdjust="spacingAndGlyphs">USDCHF-,H4</text>
<text x="430.6" y="547" font-size="12.2" fill="#6a6a6a" textLength="85.1" lengthAdjust="spacingAndGlyphs">USDCAD-,Daily</text>
<text x="538.8" y="547" font-size="12.2" fill="#6a6a6a" textLength="88.2" lengthAdjust="spacingAndGlyphs">USDCNH-,Daily</text>
<text x="650.2" y="547" font-size="12.2" fill="#6a6a6a" textLength="73.4" lengthAdjust="spacingAndGlyphs">XAUUSD-,H1</text>
<text x="746.6" y="547" font-size="12.2" fill="#6a6a6a" textLength="68.2" lengthAdjust="spacingAndGlyphs">UKOil-,Daily</text>
<text x="839.4" y="547" font-size="12.2" fill="#6a6a6a" textLength="63.8" lengthAdjust="spacingAndGlyphs">DJ30-,Daily</text>
<text x="926.4" y="547" font-size="12.2" fill="#6a6a6a" textLength="61.3" lengthAdjust="spacingAndGlyphs">UK100-,H1</text>
<rect x="322" y="534" width="3" height="16" fill="#f8f8f8"/>
<rect x="323" y="535" width="1" height="14" fill="#6d6d6d"/>
<rect x="418" y="534" width="3" height="16" fill="#f8f8f8"/>
<rect x="419" y="535" width="1" height="14" fill="#6d6d6d"/>
<rect x="526" y="534" width="3" height="16" fill="#f8f8f8"/>
<rect x="527" y="535" width="1" height="14" fill="#6d6d6d"/>
<rect x="638" y="534" width="3" height="16" fill="#f8f8f8"/>
<rect x="639" y="535" width="1" height="14" fill="#6d6d6d"/>
<rect x="734" y="534" width="3" height="16" fill="#f8f8f8"/>
<rect x="735" y="535" width="1" height="14" fill="#6d6d6d"/>
<rect x="826" y="534" width="3" height="16" fill="#f8f8f8"/>
<rect x="827" y="535" width="1" height="14" fill="#6d6d6d"/>
<rect x="914" y="534" width="3" height="16" fill="#f8f8f8"/>
<rect x="915" y="535" width="1" height="14" fill="#6d6d6d"/>
<rect x="998" y="534" width="3" height="16" fill="#f8f8f8"/>
<rect x="999" y="535" width="1" height="14" fill="#6d6d6d"/>
<path d="M1187 538v6l-3.5-3z" fill="#8a8a8a"/>
<path d="M1203 538v6l3.5-3z" fill="#8a8a8a"/>
</svg></body></html>
